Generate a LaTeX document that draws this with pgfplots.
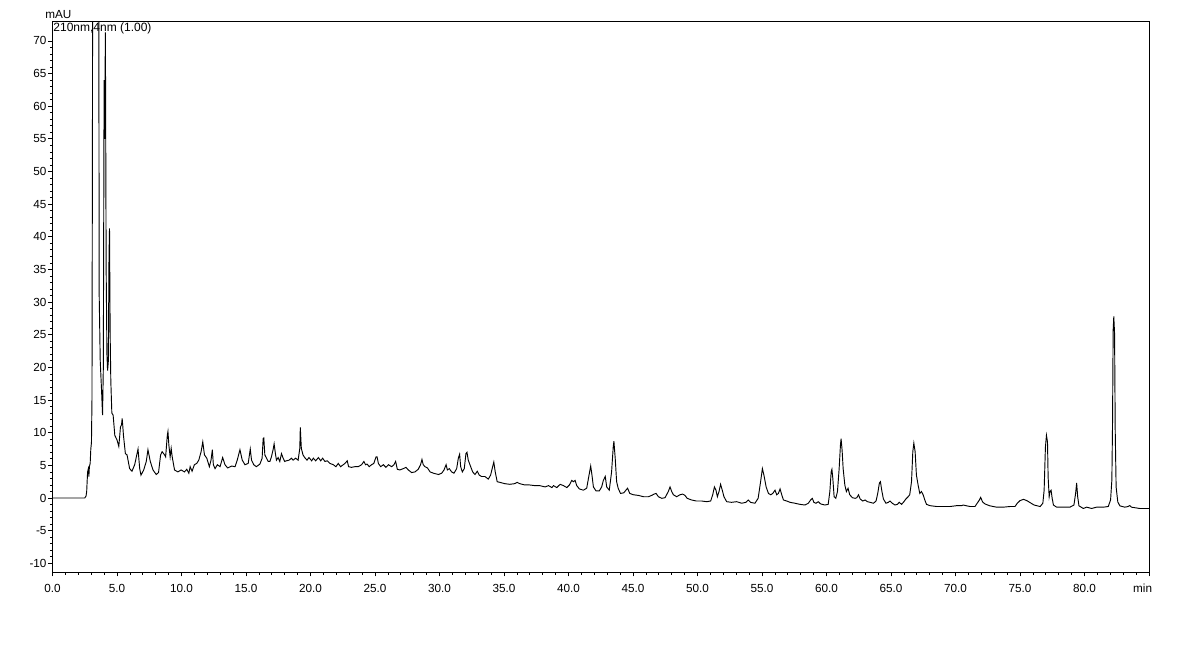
\documentclass[border=0pt]{standalone}
\usepackage{fontspec}
\setmainfont{Liberation Sans}
\usepackage{pgfplots}
\pgfplotsset{compat=1.18}
\begin{document}
\begin{tikzpicture}
\useasboundingbox (-39.375pt,-69.75pt) rectangle (845.625pt,429pt);
\begin{axis}[
  at={(0,0)}, anchor=south west,
  scale only axis, width=822.375pt, height=412.5pt,
  xmin=0, xmax=85, ymin=-11.33, ymax=72.9,
  axis line style={line width=0.75pt},
  every tick/.style={black, line width=0.6pt},
  tick align=outside, tick pos=left,
  major tick length=3.3pt, minor tick length=1.9pt,
  xtick={0,5,...,85},
  xticklabels={0.0,5.0,10.0,15.0,20.0,25.0,30.0,35.0,40.0,45.0,50.0,55.0,60.0,65.0,70.0,75.0,80.0,\makebox[0pt][r]{min\hspace{-2.3pt}}},
  ytick={-10,-5,...,70},
  yticklabels={-10,-5,0,5,10,15,20,25,30,35,40,45,50,55,60,65,70},
  minor x tick num=4, minor y tick num=4,
  ticklabel style={font=\fontsize{8.8}{10}\selectfont},
  xticklabel style={yshift=-2.2pt},
  yticklabel style={inner sep=1pt},
  clip mode=individual,
]
\addplot[black, line width=0.7pt] coordinates {
(0,0) (2.5,0) (2.6,0.3) (2.65,1) (2.72,4) (2.78,4.5) (2.82,3.3) (2.86,4.8) (2.92,5.3) (2.97,7.5) (3.02,8.5) (3.06,15) (3.1,60) (3.14,150) (3.5,150) (3.58,90) (3.62,31) (3.7,21) (3.8,16.6) (3.88,12.7) (3.94,20) (4.0,64) (4.04,55) (4.1,71.3) (4.16,35) (4.22,22) (4.27,19.5) (4.33,21) (4.38,37) (4.42,41.3) (4.47,25) (4.52,18) (4.6,13) (4.7,12.7) (4.83,9.6) (5.0,8.9) (5.14,7.9) (5.27,10.9) (5.35,11.2) (5.4,12.2) (5.45,11.0) (5.5,9.6) (5.65,6.8) (5.78,6.6) (5.98,4.5) (6.16,4.1) (6.37,5.1) (6.63,7.5) (6.76,4.5) (6.86,3.5) (7.07,4.3) (7.27,5.6) (7.4,7.4) (7.58,5.6) (7.79,4.3) (8.04,3.6) (8.22,3.9) (8.38,6.6) (8.5,7.1) (8.69,6.6) (8.77,6.3) (8.9,9.6) (8.95,10.2) (9.02,8.1) (9.12,6.3) (9.2,7.6) (9.28,6.3) (9.46,4.3) (9.72,4.0) (9.97,4.3) (10.23,4.0) (10.41,4.4) (10.57,3.8) (10.67,4.8) (10.82,4.1) (11.0,5.1) (11.18,5.3) (11.34,5.8) (11.52,7.1) (11.65,8.6) (11.78,6.6) (11.96,6.1)
(12.16,4.8) (12.29,5.8) (12.39,7.4) (12.47,5.1) (12.6,4.5) (12.78,5.1) (12.99,4.8) (13.19,6.2) (13.37,5.1) (13.58,4.6) (13.89,4.9) (14.15,4.8) (14.32,5.8) (14.53,7.4) (14.71,5.8) (14.92,5.1) (15.17,5.3) (15.33,7.5) (15.43,5.8) (15.6,5.1) (15.8,4.8) (16.08,5.2) (16.25,6.1) (16.33,9.1) (16.38,9.2) (16.46,6.6) (16.59,6.1) (16.72,5.6) (16.85,5.6) (16.97,6.3) (17.1,7.4) (17.18,8.3) (17.28,6.8) (17.36,5.8) (17.49,6.2) (17.62,5.6) (17.75,6.8) (17.88,6.1) (18.0,5.6) (18.13,5.7) (18.34,5.8) (18.52,6.1) (18.65,5.8) (18.85,6.1) (19.04,5.8) (19.17,7.6) (19.21,10.8) (19.29,7.6) (19.42,6.6) (19.55,6.2) (19.73,5.8) (19.88,6.2) (20.09,5.7) (20.22,6.1) (20.4,5.7) (20.61,6.2) (20.79,5.7) (20.94,6.1) (21.12,5.6) (21.3,5.7) (21.51,5.3) (21.77,5.1) (21.97,4.8) (22.15,5.3) (22.33,4.8) (22.54,5.1) (22.67,5.3) (22.85,5.7) (22.95,4.8) (23.18,4.7) (23.44,4.8) (23.7,4.8) (23.96,5.1) (24.14,5.6) (24.27,5.1) (24.39,5.2) (24.55,4.8) (24.73,5.1) (24.91,5.3)
(25.08,6.3) (25.16,6.3) (25.26,5.3) (25.44,4.8) (25.65,5.1) (25.85,4.7) (26.04,5.1) (26.29,4.8) (26.47,5.1) (26.6,5.6) (26.73,4.4) (26.93,4.3) (27.19,4.5) (27.4,4.7) (27.58,4.3) (27.84,3.9) (28.1,4.0) (28.35,4.4) (28.53,5.1) (28.64,5.9) (28.74,5.1) (28.87,4.8)
(29.07,4.6) (29.27,4.0) (29.53,3.8) (29.92,3.6) (30.17,3.8) (30.35,4.3) (30.51,5.1) (30.61,4.3) (30.76,4.5) (30.94,4.0) (31.12,3.8) (31.33,4.5) (31.46,6.1) (31.56,6.7) (31.64,4.8) (31.77,4.0) (31.92,4.5) (32.05,6.8) (32.13,7.0) (32.23,5.8) (32.36,5.1) (32.57,4.0) (32.75,3.6) (32.93,4.1) (33.08,3.5) (33.26,3.3) (33.52,3.3) (33.78,2.9) (33.96,3.5) (34.12,4.8) (34.21,5.5) (34.32,4.0) (34.47,2.5) (34.68,2.4) (35.06,2.2) (35.45,2.1) (35.83,2.2) (36.02,2.4) (36.22,2.2) (36.61,2.0) (36.99,2.0) (37.38,1.9) (37.76,1.9)
(38.19,1.7) (38.45,1.9) (38.71,1.6) (38.84,1.9) (39.09,1.6) (39.35,2.1) (39.61,1.9) (39.87,1.6) (40.07,2.0) (40.25,2.7) (40.38,2.5) (40.51,2.7) (40.64,1.9) (40.84,1.4) (41.15,1.2) (41.41,1.5) (41.59,3.5) (41.72,4.9) (41.82,3.5) (41.93,1.7) (42.13,1.1) (42.39,1.1) (42.57,1.7) (42.7,2.7) (42.85,3.3) (42.96,1.7) (43.16,1.2) (43.34,4.0) (43.47,7.9) (43.52,8.7) (43.62,6.1) (43.73,2.5) (43.85,1.5) (44.03,0.7) (44.29,0.8) (44.45,1.2) (44.58,1.5) (44.75,0.7)
(45.03,0.5) (45.42,0.4) (45.81,0.2) (46.19,0.2) (46.45,0.4) (46.63,0.6) (46.79,0.7) (46.97,0.2) (47.23,-0.05) (47.48,0.05) (47.74,1.0) (47.87,1.7) (48.0,1.0) (48.13,0.5) (48.38,0.2) (48.64,0.5) (48.85,0.6) (49.03,0.4) (49.2,-0.05) (49.54,-0.3) (49.92,-0.46)
(50.33,-0.46) (50.71,-0.56) (51.02,-0.46) (51.18,0.5) (51.31,1.7) (51.43,1.2) (51.54,0.2) (51.67,1.0) (51.79,2.1) (51.92,1.2) (52.05,0.2) (52.26,-0.56) (52.64,-0.66) (53.04,-0.56) (53.42,-0.8) (53.75,-0.66) (53.93,-0.3) (54.11,-0.66) (54.45,-0.8) (54.7,-0.05) (54.89,2.5) (55.03,4.5) (55.15,3.5)
(55.32,1.7) (55.5,0.7) (55.68,0.5) (55.83,0.7) (56.01,1.2) (56.14,0.5) (56.27,0.7) (56.4,1.4) (56.53,0.5) (56.66,-0.3) (56.92,-0.46) (57.17,-0.66) (57.56,-0.8) (57.94,-0.97) (58.33,-1.07) (58.59,-0.8) (58.77,-0.3) (58.9,-0.05) (59.02,-0.66) (59.18,-0.8) (59.36,-0.56) (59.54,-0.9) (59.87,-1.07) (60.13,-0.97) (60.26,1.0) (60.36,4.0) (60.42,4.4) (60.49,3.0) (60.59,0.2) (60.72,-0.05) (60.85,1.0) (60.98,4.5) (61.08,8.1) (61.13,9.1) (61.21,7.3) (61.29,4.5) (61.42,2.0) (61.54,1.0) (61.67,1.5) (61.8,0.5) (62.01,0.05)
(62.22,-0.05) (62.35,0.05) (62.48,0.5) (62.61,-0.15) (62.81,-0.46) (62.99,-0.3) (63.17,-0.56) (63.38,-0.66) (63.64,-0.8) (63.84,-0.46) (63.97,0.7) (64.1,2.3) (64.18,2.5) (64.28,1.2) (64.41,-0.15) (64.61,-0.8) (64.79,-0.66) (64.92,-0.46) (65.1,-0.8) (65.31,-1.07) (65.49,-0.97) (65.64,-0.66) (65.82,-0.97) (66.0,-0.56) (66.15,-0.15) (66.33,0.2) (66.45,0.5) (66.59,2.5) (66.69,7.1) (66.77,8.4) (66.87,7.1) (66.97,3.5) (67.1,2.0) (67.23,0.7) (67.36,1.0) (67.49,0.5) (67.62,-0.3) (67.75,-0.97) (68.02,-1.17)
(68.54,-1.3) (69.06,-1.3) (69.57,-1.3) (70.09,-1.17) (70.48,-1.17) (70.6,-1.07) (70.81,-1.17) (71.12,-1.3) (71.51,-1.3) (71.68,-0.8) (71.85,-0.3) (71.95,0.1) (72.1,-0.6) (72.28,-0.9) (72.67,-1.2) (73.19,-1.4) (73.7,-1.4) (74.22,-1.3) (74.61,-1.3) (74.79,-0.8) (75.0,-0.4)
(75.27,-0.2) (75.53,-0.4) (75.78,-0.7) (76.09,-1.07) (76.35,-1.2) (76.56,-1.3) (76.77,-0.8) (76.87,1.2) (76.97,7.8) (77.05,9.6) (77.13,8.6) (77.18,3.2) (77.26,0.2) (77.33,1.0) (77.41,1.2) (77.49,0.0) (77.59,-1.07) (77.84,-1.4) (78.36,-1.4) (78.87,-1.4) (79.18,-1.07) (79.31,0.7) (79.39,2.3) (79.47,0.2) (79.57,-1.2) (79.91,-1.6) (80.17,-1.4) (80.55,-1.6) (80.94,-1.4) (81.46,-1.4) (81.84,-1.3) (82.02,-0.3) (82.12,2.75) (82.17,10.9) (82.22,25.7) (82.27,27.8) (82.33,25.2) (82.38,10.4) (82.45,1.7) (82.58,-0.6) (82.74,-1.2) (83.12,-1.4) (83.38,-1.3) (83.51,-1.15) (83.64,-1.4) (84.28,-1.6) (85,-1.6)
};
\node[anchor=north west, inner sep=0.5pt, font=\fontsize{9}{10}\selectfont] at (rel axis cs:0,1) {210nm,4nm (1.00)};
\node[anchor=base west, inner sep=0pt, font=\fontsize{8.8}{10}\selectfont, xshift=-5.6pt, yshift=2.6pt] at (rel axis cs:0,1) {mAU};
\end{axis}
\end{tikzpicture}
\end{document}
